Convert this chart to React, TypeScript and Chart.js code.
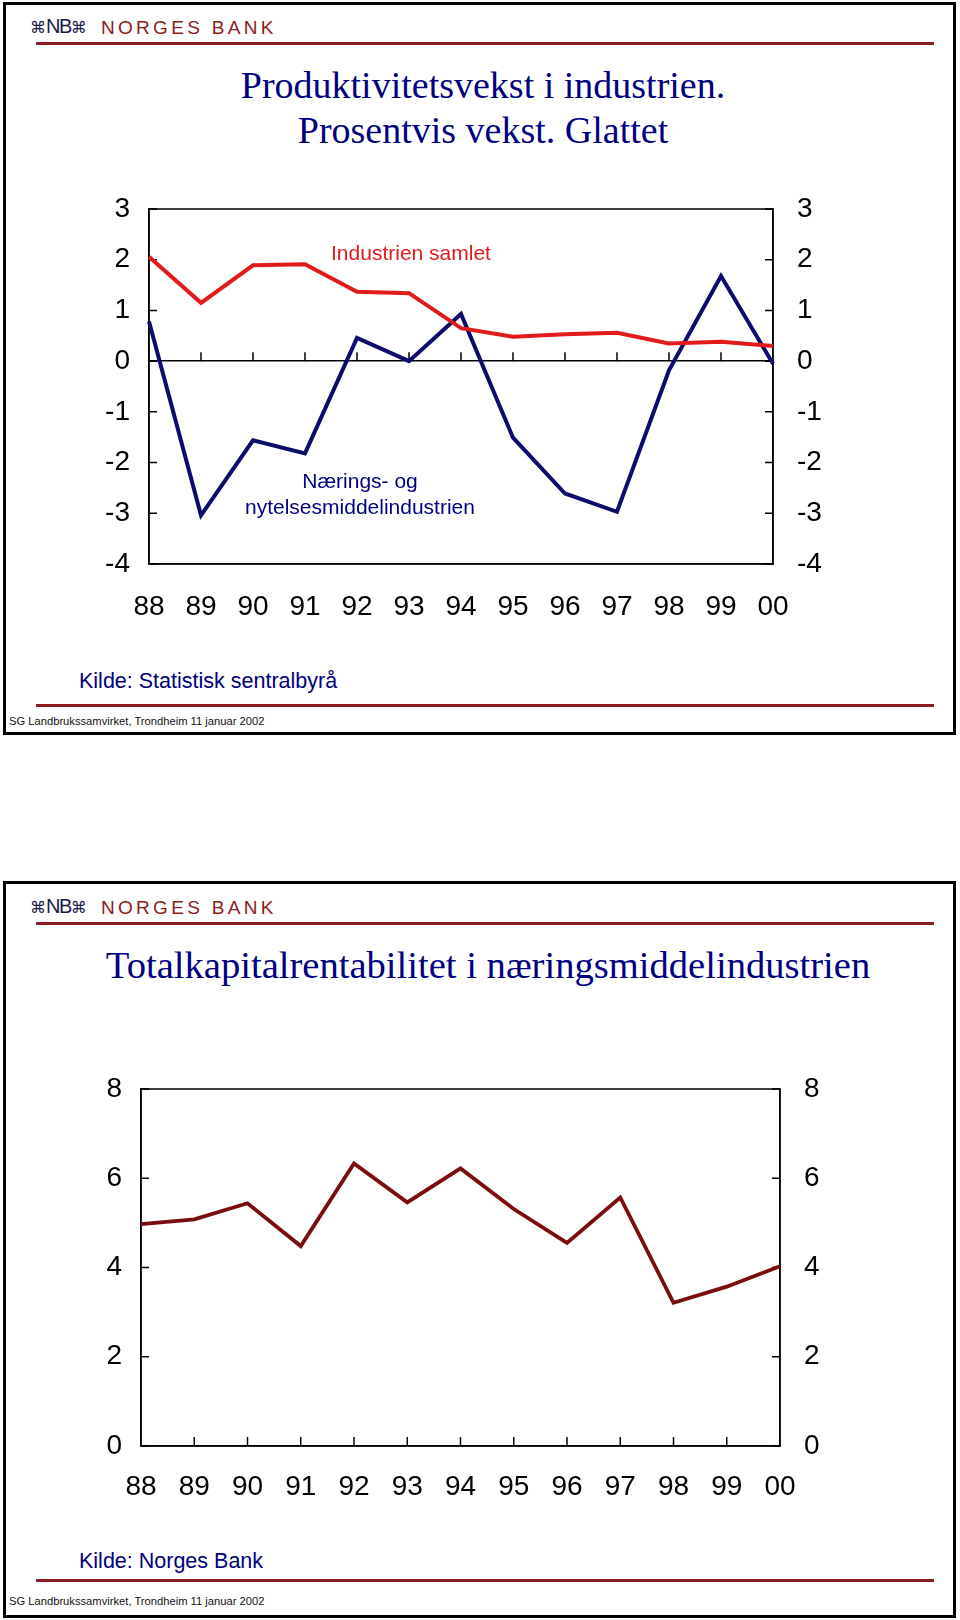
import React, { useEffect, useRef } from "react";
import { Chart, registerables } from "chart.js";

Chart.register(...registerables);

// ---------- data ----------
const years = ["88", "89", "90", "91", "92", "93", "94", "95", "96", "97", "98", "99", "00"];
const industrienSamlet = [2.06, 1.15, 1.89, 1.91, 1.37, 1.34, 0.65, 0.48, 0.53, 0.56, 0.35, 0.38, 0.3];
const naeringsOgNytelses = [0.78, -3.04, -1.56, -1.82, 0.46, 0.0, 0.93, -1.51, -2.61, -2.97, -0.18, 1.68, -0.05];
const totalkapitalrentabilitet = [4.97, 5.08, 5.44, 4.48, 6.33, 5.46, 6.22, 5.31, 4.55, 5.57, 3.21, 3.57, 4.03];
const topYMin = -4;
const topYMax = 3;
const bottomYMin = 0;
const bottomYMax = 8;
const bottomYStep = 2;

const TICK_FONT = "'Liberation Sans', Arial, sans-serif";
const SANS = "'Liberation Sans', Arial, sans-serif";
const SERIF = "'Liberation Serif', 'Times New Roman', serif";
const NAVY = "#000080";
const MAROON = "#8a1c22";

// plugin: frame box, inward y ticks, upward category ticks on baseline
const framePlugin = {
  id: "frameTicks",
  beforeDatasetsDraw(chart: any, _args: any, opts: any) {
    const { ctx, chartArea } = chart;
    const x = chart.scales.x;
    const y = chart.scales.y;
    ctx.save();
    ctx.strokeStyle = "#000";
    ctx.lineWidth = 1.5;
    ctx.strokeRect(chartArea.left, chartArea.top, chartArea.right - chartArea.left, chartArea.bottom - chartArea.top);
    y.ticks.forEach((t: any) => {
      const py = y.getPixelForValue(t.value);
      ctx.beginPath();
      ctx.moveTo(chartArea.left, py);
      ctx.lineTo(chartArea.left + 8, py);
      ctx.moveTo(chartArea.right, py);
      ctx.lineTo(chartArea.right - 8, py);
      ctx.stroke();
    });
    const base = y.getPixelForValue(opts.baseValue ?? 0);
    for (let i = 1; i < years.length - 1; i++) {
      const px = x.getPixelForValue(i);
      ctx.beginPath();
      ctx.moveTo(px, base);
      ctx.lineTo(px, base - 9);
      ctx.stroke();
    }
    ctx.restore();
  },
};

function makeOptions(min: number, max: number, step: number, leftW: number, rightW: number, bottomH: number, topPad: number, xPad: number) {
  const tickFont = { family: TICK_FONT, size: 28 };
  return {
    responsive: false,
    animation: false as const,
    devicePixelRatio: 1,
    layout: { padding: { top: topPad, bottom: 0, left: 0, right: 0 } },
    plugins: {
      legend: { display: false },
      tooltip: { enabled: false },
      frameTicks: { baseValue: 0 },
    },
    scales: {
      x: {
        type: "category" as const,
        offset: false,
        grid: { display: false, drawTicks: false },
        border: { display: true, color: "#000", width: 1.5 },
        ticks: { font: tickFont, color: "#000", padding: xPad, maxRotation: 0, autoSkip: false },
        afterFit: (s: any) => {
          s.height = bottomH;
          s.paddingLeft = 0;
          s.paddingRight = 0;
        },
      },
      y: {
        position: "left" as const,
        min,
        max,
        grid: {
          drawTicks: false,
          color: (c: any) => (c.tick && c.tick.value === 0 && min < 0 ? "#000" : "rgba(0,0,0,0)"),
          lineWidth: 1.5,
        },
        border: { display: true, color: "#000", width: 1.5 },
        ticks: { stepSize: step, font: tickFont, color: "#000", padding: 19 },
        afterFit: (s: any) => {
          s.width = leftW;
          s.paddingTop = 0;
          s.paddingBottom = 0;
        },
      },
      y2: {
        position: "right" as const,
        min,
        max,
        grid: { display: false, drawTicks: false },
        border: { display: true, color: "#000", width: 1.5 },
        ticks: { stepSize: step, font: tickFont, color: "#000", padding: 24 },
        afterFit: (s: any) => {
          s.width = rightW;
          s.paddingTop = 0;
          s.paddingBottom = 0;
        },
      },
    },
  };
}

function TopChart() {
  const ref = useRef<HTMLCanvasElement | null>(null);
  useEffect(() => {
    if (!ref.current) return;
    const chart = new Chart(ref.current, {
      type: "line",
      data: {
        labels: years,
        datasets: [
          {
            label: "Industrien samlet",
            data: industrienSamlet,
            borderColor: "#e11b1b",
            borderWidth: 4,
            pointRadius: 0,
            tension: 0,
            clip: false,
          } as any,
          {
            label: "Nærings- og nytelsesmiddelindustrien",
            data: naeringsOgNytelses,
            borderColor: "#0c0c6c",
            borderWidth: 4,
            pointRadius: 0,
            tension: 0,
            clip: false,
          } as any,
        ],
      },
      options: makeOptions(topYMin, topYMax, 1, 149, 187, 66, 19, 26) as any,
      plugins: [framePlugin],
    });
    return () => chart.destroy();
  }, []);
  return <canvas ref={ref} width={960} height={440} style={{ position: "absolute", left: 0, top: 190 }} />;
}

function BottomChart() {
  const ref = useRef<HTMLCanvasElement | null>(null);
  useEffect(() => {
    if (!ref.current) return;
    const chart = new Chart(ref.current, {
      type: "line",
      data: {
        labels: years,
        datasets: [
          {
            label: "Totalkapitalrentabilitet",
            data: totalkapitalrentabilitet,
            borderColor: "#7a0d0d",
            borderWidth: 3.8,
            pointRadius: 0,
            tension: 0,
            clip: false,
          } as any,
        ],
      },
      options: makeOptions(bottomYMin, bottomYMax, bottomYStep, 141, 180, 74, 29, 24) as any,
      plugins: [framePlugin],
    });
    return () => chart.destroy();
  }, []);
  return <canvas ref={ref} width={960} height={460} style={{ position: "absolute", left: 0, top: 1060 }} />;
}

function Text(props: { cx?: number; left?: number; cy: number; size: number; family: string; color: string; children: any; spacing?: number }) {
  const h = 60;
  const style: any = {
    position: "absolute",
    top: props.cy - h / 2,
    height: h,
    lineHeight: h + "px",
    fontSize: props.size,
    fontFamily: props.family,
    color: props.color,
    whiteSpace: "nowrap",
    letterSpacing: props.spacing ?? 0,
  };
  if (props.cx !== undefined) {
    style.left = props.cx - 600;
    style.width = 1200;
    style.textAlign = "center";
  } else {
    style.left = props.left;
  }
  return <div style={style}>{props.children}</div>;
}

function Header(props: { top: number }) {
  const t = props.top;
  return (
    <>
      <div style={{ position: "absolute", left: 30, top: t - 14, height: 28, lineHeight: "28px", whiteSpace: "nowrap", color: "#1c1c48" }}>
        <span style={{ fontFamily: "'DejaVu Sans', sans-serif", fontSize: 16 }}>⌘</span>
        <span style={{ fontFamily: SANS, fontSize: 20, letterSpacing: -1.5 }}>NB</span>
        <span style={{ fontFamily: "'DejaVu Sans', sans-serif", fontSize: 16 }}>⌘</span>
      </div>
      <Text left={101} cy={t + 1.5} size={19} family={SANS} color={MAROON} spacing={3.3}>
        NORGES BANK
      </Text>
      <div style={{ position: "absolute", left: 36, top: t + 16, width: 898, height: 3, background: MAROON }} />
    </>
  );
}

function Footer(props: { kildeY: number; lineY: number; source: string }) {
  const k = props.kildeY;
  return (
    <>
      <Text left={79} cy={k} size={21.5} family={SANS} color={NAVY}>
        {props.source}
      </Text>
      <div style={{ position: "absolute", left: 36, top: props.lineY, width: 898, height: 3, background: MAROON }} />
      <Text left={9} cy={k + 40} size={11.2} family={SANS} color="#111">
        SG Landbrukssamvirket, Trondheim 11 januar 2002
      </Text>
    </>
  );
}

export default function App() {
  return (
    <div style={{ position: "absolute", left: 0, top: 0, width: 960, height: 1620, background: "#fff", overflow: "hidden" }}>
      {/* panel 1 */}
      <div style={{ position: "absolute", left: 3, top: 2, width: 953, height: 733, border: "3px solid #000", boxSizing: "border-box" }} />
      <Header top={26} />
      <Text cx={483} cy={85} size={38} family={SERIF} color={NAVY}>
        Produktivitetsvekst i industrien.
      </Text>
      <Text cx={483} cy={130} size={38} family={SERIF} color={NAVY}>
        Prosentvis vekst. Glattet
      </Text>
      <TopChart />
      <Text cx={411} cy={253} size={21} family={SANS} color="#e11b1b">
        Industrien samlet
      </Text>
      <Text cx={360} cy={481} size={21} family={SANS} color={NAVY}>
        Nærings- og
      </Text>
      <Text cx={360} cy={507} size={21} family={SANS} color={NAVY}>
        nytelsesmiddelindustrien
      </Text>
      <Footer kildeY={681} lineY={704} source="Kilde: Statistisk sentralbyrå" />

      {/* panel 2 */}
      <div style={{ position: "absolute", left: 3, top: 881, width: 953, height: 737, border: "3px solid #000", boxSizing: "border-box" }} />
      <Header top={906} />
      <Text cx={488} cy={965} size={38.6} family={SERIF} color={NAVY}>
        Totalkapitalrentabilitet i næringsmiddelindustrien
      </Text>
      <BottomChart />
      <Footer kildeY={1561} lineY={1579} source="Kilde: Norges Bank" />
    </div>
  );
}
